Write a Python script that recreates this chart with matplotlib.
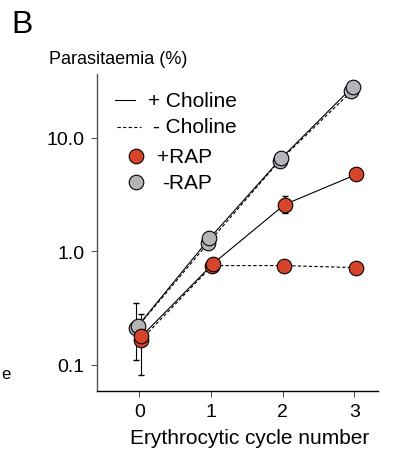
import matplotlib
matplotlib.use("Agg")
import matplotlib.pyplot as plt

plt.rcParams['font.family'] = ['Liberation Sans', 'DejaVu Sans']

# cycle numbers
cycles = [0, 1, 2, 3]

# parasitaemia (%)
norap_chol = [0.22, 1.30, 6.6, 28.3]
norap_nochol = [0.21, 1.18, 6.3, 25.7]
rap_chol = [0.178, 0.78, 2.59, 4.77]
rap_nochol = [0.165, 0.75, 0.75, 0.72]

# error bars (lower, upper) as absolute values, only where visible
norap_err = [(0.11, 0.35), None, None, None]
rap_chol_err = [(0.081, 0.28), (0.68, 0.84), (2.16, 3.1), None]

red = '#d7442c'
grey = '#b3b5b8'

fig = plt.figure(figsize=(3.94, 4.52), dpi=100)
ax = fig.add_axes([0.246, 0.133, 0.713, 0.701])


def draw(vals, dx, ls, color, errs=None):
    xs = [c + dx for c in cycles]
    ax.plot(xs, vals, ls=ls, color='black', lw=0.8, zorder=2,
            dashes=(3, 2) if ls == '--' else (None, None))
    if errs:
        for x, v, e in zip(xs, vals, errs):
            if e is None:
                continue
            ax.errorbar([x], [v], yerr=[[v - e[0]], [e[1] - v]], fmt='none',
                        ecolor='black', elinewidth=0.8, capsize=2, zorder=1)
    ax.plot(xs, vals, ls='none', marker='o', ms=10.5, mfc=color, mec='black',
            mew=0.8, zorder=3)


draw(norap_nochol, -0.04, '--', grey, norap_err)
draw(norap_chol, -0.02, '-', grey)
draw(rap_nochol, 0.02, '--', red)
draw(rap_chol, 0.03, '-', red, rap_chol_err)

ax.set_yscale('log')
ax.set_ylim(0.059, 36.6)
ax.set_xlim(-0.59, 3.33)
ax.set_yticks([0.1, 1, 10])
ax.set_yticklabels(['0.1', '1.0', '10.0'])
ax.minorticks_off()
ax.set_xticks(cycles)
ax.tick_params(labelsize=14, length=4, width=0.8, color='#555555', pad=5)
for s in ['top', 'right']:
    ax.spines[s].set_visible(False)
for s in ['left', 'bottom']:
    ax.spines[s].set_color('#555555')
    ax.spines[s].set_linewidth(1)
ax.spines['bottom'].set_color('black')

ax.set_xlabel('Erythrocytic cycle number', fontsize=15, labelpad=5)
ax.xaxis.set_label_coords(0.545, -0.117)
fig.text(0.30, 0.868, 'Parasitaemia (%)', fontsize=13, ha='center', va='center')
fig.text(0.03, 0.945, 'B', fontsize=23, ha='left', va='center')
fig.text(0.002, 0.172, 'e', fontsize=12, ha='left', va='center')

# legend drawn by hand (axes coordinates) to match the original spacing
tr = ax.transAxes
ax.plot([0.064, 0.135], [0.918, 0.918], color='black', lw=0.8, transform=tr)
ax.text(0.181, 0.918, '+ Choline', fontsize=15, va='center', transform=tr)
ax.plot([0.071, 0.157], [0.833, 0.833], color='black', lw=0.8, ls='--',
        dashes=(3, 2), transform=tr)
ax.text(0.199, 0.833, '- Choline', fontsize=15, va='center', transform=tr)
ax.plot([0.139], [0.741], ls='none', marker='o', ms=10.5, mfc=red, mec='black',
        mew=0.8, transform=tr)
ax.text(0.214, 0.741, '+RAP', fontsize=15, va='center', transform=tr)
ax.plot([0.139], [0.659], ls='none', marker='o', ms=10.5, mfc=grey, mec='black',
        mew=0.8, transform=tr)
ax.text(0.231, 0.659, '-RAP', fontsize=15, va='center', transform=tr)

fig.savefig('out.png', dpi=100)
